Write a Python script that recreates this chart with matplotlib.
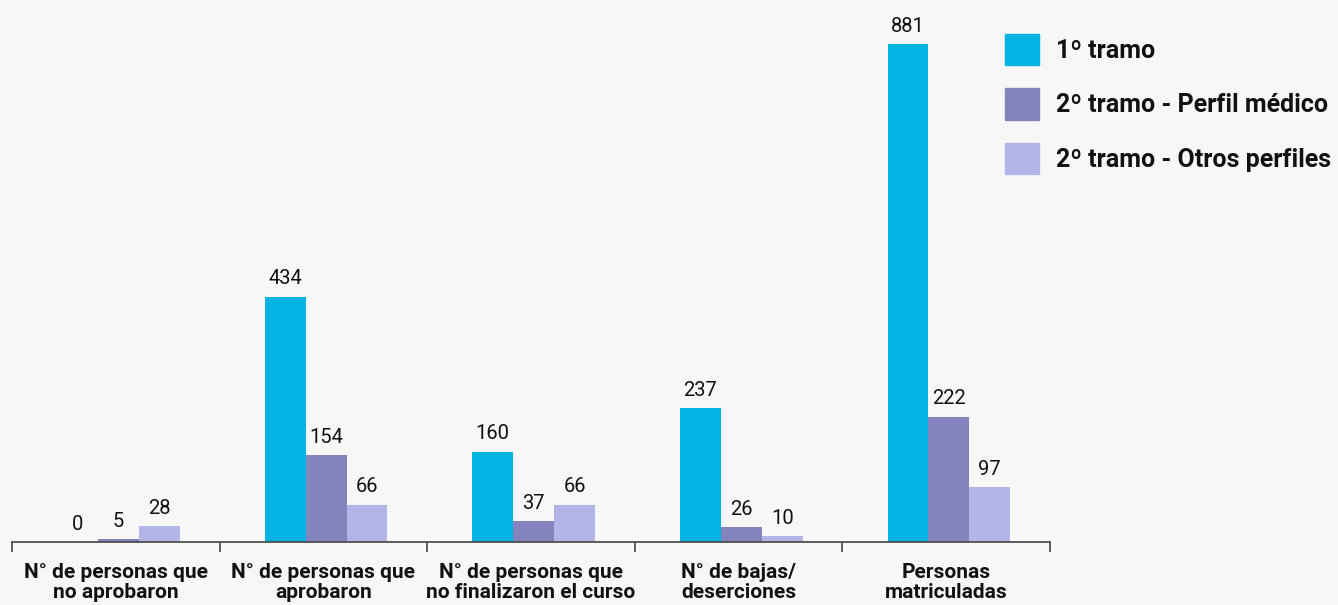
import matplotlib
matplotlib.use("Agg")
import matplotlib.pyplot as plt
from matplotlib.patches import Patch
import numpy as np

categories = ["N° de personas que\nno aprobaron", "N° de personas que\naprobaron",
              "N° de personas que\nno finalizaron el curso", "N° de bajas/\ndeserciones",
              "Personas\nmatriculadas"]
series_names = ["1º tramo", "2º tramo - Perfil médico", "2º tramo - Otros perfiles"]
tramo1 = [0, 434, 160, 237, 881]
tramo2_medico = [5, 154, 37, 26, 222]
tramo2_otros = [28, 66, 66, 10, 97]
colors = ["#03b3e3", "#8483bd", "#b3b5e8"]

plt.rcParams['font.family'] = ['Roboto', 'DejaVu Sans']
bg = "#f7f7f7"
W, H = 1338, 605
fig = plt.figure(figsize=(W/100, H/100), dpi=100, facecolor=bg)
ax = fig.add_axes([12/W, 1-542/H, (1050-12)/W, 542/H])
ax.set_facecolor(bg)

x = np.arange(len(categories))
width = 0.197
shift = 0.013
series = [tramo1, tramo2_medico, tramo2_otros]
for i, (vals, c, name) in enumerate(zip(series, colors, series_names)):
    pos = x + shift + (i-1)*width
    ax.bar(pos, vals, width, color=c, label=name, zorder=2)
    for p, v in zip(pos, vals):
        ax.annotate(str(v), (p, v), xytext=(0, 6), textcoords='offset points',
                    ha='center', va='bottom', fontsize=14.5, color='#111111')

ax.set_xlim(-0.5, len(categories)-0.5)
ax.set_ylim(0, 959)
for s in ['top', 'right', 'left']:
    ax.spines[s].set_visible(False)
ax.spines['bottom'].set_color('#505050')
ax.spines['bottom'].set_linewidth(1.3)
ax.spines['bottom'].set_zorder(3)
ax.set_yticks([])
ax.set_xticks(x)
ax.set_xticklabels(categories, fontsize=15, fontweight='bold', color='#111111', linespacing=1.1)
ax.tick_params(axis='x', which='major', length=0, pad=15)
ax.set_xticks(np.arange(-0.5, len(categories), 1.0), minor=True)
ax.tick_params(axis='x', which='minor', length=7, width=1.3, color='#505050')

handles = [Patch(color=c) for c in colors]
fs = 18
leg = fig.legend(handles, series_names, loc='upper left', bbox_to_anchor=(1005/W, 1-34/H),
                 frameon=False, borderpad=0, borderaxespad=0, handlelength=34/25,
                 handleheight=1.56, handletextpad=0.68, labelspacing=0.92,
                 prop={'size': fs, 'weight': 'bold'})
for t in leg.get_texts():
    t.set_color('#111111')

fig.savefig("out.png", dpi=100, facecolor=bg)
